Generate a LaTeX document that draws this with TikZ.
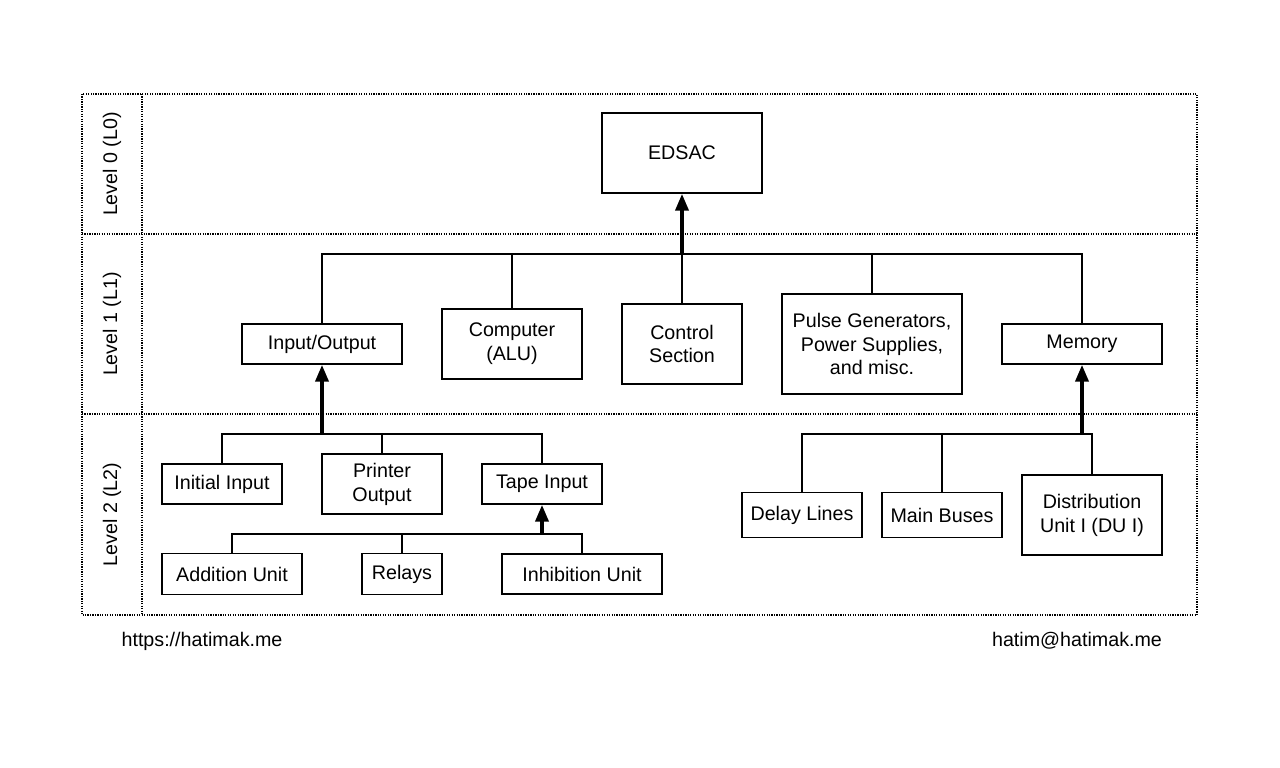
\documentclass[tikz,border=0pt]{standalone}
\usepackage{fontspec}
\setmainfont{Liberation Sans}
\usetikzlibrary{arrows.meta, positioning}

\begin{document}
\begin{tikzpicture}[
    unit/.style={draw, line width=1.1pt, fill=white, align=center, font=\fontsize{11.2}{13.6}\selectfont},
    bus/.style={line width=1.1pt},
    feed/.style={line width=1.8pt, -{Triangle[length=9.5pt, width=7.5pt]}},
    frame/.style={line width=0.9pt, dash pattern=on 0.7pt off 0.7pt},
    lvl/.style={rotate=90, font=\fontsize{11.2}{13.6}\selectfont},
    foot/.style={font=\fontsize{11.2}{13.6}\selectfont},
]
    \useasboundingbox (0,0) rectangle (25.6,-15.36);

    % Level bands
    \draw[frame] (1.64,-1.88) rectangle (23.94,-12.30);
    \draw[frame] (2.84,-1.88) -- (2.84,-12.30);
    \draw[frame] (1.64,-4.68) -- (23.94,-4.68);
    \draw[frame] (1.64,-8.28) -- (23.94,-8.28);
    \node[lvl] (lzero) at (2.24,-3.28) {Level 0 (L0)};
    \node[lvl] (lone) at (2.24,-6.48) {Level 1 (L1)};
    \node[lvl] (ltwo) at (2.24,-10.29) {Level 2 (L2)};

    % Level 0
    \node[unit, minimum width=3.2cm, minimum height=1.6cm] (edsac) at (13.64,-3.06) {EDSAC};

    % Level 1
    \node[unit, minimum width=3.2cm, minimum height=0.8cm] (io) at (6.44,-6.88) {Input/Output};
    \node[unit, minimum width=2.8cm, minimum height=1.4cm] (alu) at (10.24,-6.88) {Computer\\(ALU)};
    \node[unit, minimum width=2.4cm, minimum height=1.6cm] (ctrl) at (13.64,-6.88) {Control\\Section};
    \node[unit, minimum width=3.6cm, minimum height=2.0cm] (pulse) at (17.44,-6.88) {Pulse Generators,\\Power Supplies,\\and misc.};
    \node[unit, minimum width=3.2cm, minimum height=0.8cm] (mem) at (21.64,-6.88) {Memory};

    % Level 2, input/output side
    \node[unit, minimum width=2.4cm, minimum height=0.8cm] (init) at (4.44,-9.68) {Initial Input};
    \node[unit, minimum width=2.4cm, minimum height=1.2cm] (print) at (7.64,-9.68) {Printer\\Output};
    \node[unit, minimum width=2.4cm, minimum height=0.8cm] (tape) at (10.84,-9.68) {Tape Input};
    \node[unit, minimum width=2.8cm, minimum height=0.82cm] (add) at (4.64,-11.48) {Addition Unit};
    \node[unit, minimum width=1.6cm, minimum height=0.82cm] (relay) at (8.04,-11.48) {Relays};
    \node[unit, minimum width=3.2cm, minimum height=0.8cm] (inhib) at (11.64,-11.48) {Inhibition Unit};

    % Level 2, memory side
    \node[unit, minimum width=2.4cm, minimum height=0.9cm] (delay) at (16.04,-10.30) {Delay Lines};
    \node[unit, minimum width=2.4cm, minimum height=0.9cm] (buses) at (18.84,-10.30) {Main Buses};
    \node[unit, minimum width=2.8cm, minimum height=1.6cm] (du) at (21.84,-10.30) {Distribution\\Unit I (DU I)};

    % Bus joints
    \coordinate (jtop) at (13.64,-5.08);
    \coordinate (jio) at (6.44,-8.68);
    \coordinate (jtape) at (10.84,-10.68);
    \coordinate (jmem) at (21.64,-8.68);

    % Connections
    \draw[bus] (io.north) |- (jtop) -| (mem.north);
    \draw[bus] (alu.north) -- (alu.north |- jtop);
    \draw[bus] (ctrl.north) -- (jtop);
    \draw[bus] (pulse.north) -- (pulse.north |- jtop);
    \draw[feed] (jtop) -- (edsac.south);

    \draw[bus] (init.north) |- (jio) -| (tape.north);
    \draw[bus] (print.north) -- (print.north |- jio);
    \draw[feed] (jio) -- (io.south);

    \draw[bus] (add.north) |- (jtape) -| (inhib.north);
    \draw[bus] (relay.north) -- (relay.north |- jtape);
    \draw[feed] (jtape) -- (tape.south);

    \draw[bus] (delay.north) |- (jmem) -| (du.north);
    \draw[bus] (buses.north) -- (buses.north |- jmem);
    \draw[feed] (jmem) -- (mem.south);

    % Footer
    \node[foot] (site) at (4.04,-12.82) {https://hatimak.me};
    \node[foot] (mail) at (21.54,-12.82) {hatim@hatimak.me};

\end{tikzpicture}
\end{document}
